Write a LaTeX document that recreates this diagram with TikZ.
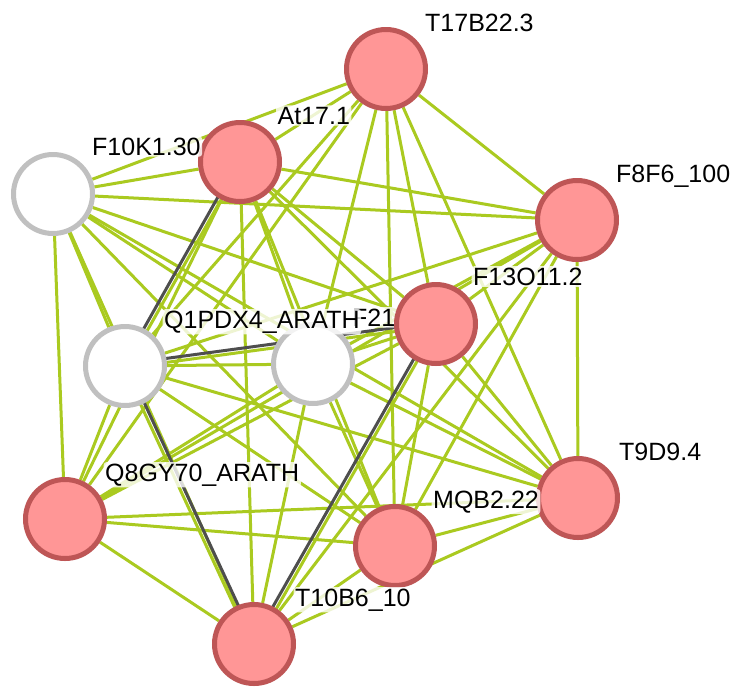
\documentclass[tikz,border=0pt]{standalone}
\usepackage{fontspec}
\setmainfont{Liberation Sans}
\usetikzlibrary{calc,backgrounds}
\definecolor{edgegreen}{RGB}{170,202,32}
\definecolor{edgedark}{RGB}{78,78,78}
\definecolor{pinkfill}{RGB}{255,150,150}
\definecolor{pinkdraw}{RGB}{190,86,86}
\definecolor{greydraw}{RGB}{192,192,192}
\begin{document}
\begin{tikzpicture}[x=1pt,y=-1pt,
  prot/.style={circle, minimum size=79pt, inner sep=0pt, line width=5pt, draw=pinkdraw, fill=pinkfill},
  wprot/.style={circle, minimum size=79pt, inner sep=0pt, line width=5pt, draw=greydraw, fill=white},
  lbl/.style={anchor=base west, font=\fontsize{25}{29}\selectfont, fill=white, fill opacity=0.8, text opacity=1, inner sep=1.5pt, rounded corners=3pt},
  edge/.style={draw=edgegreen, line width=3pt},
  dedge/.style={draw=edgedark, line width=3pt}]
\useasboundingbox (0,0) rectangle (736,686);
% nodes (E drawn later so it covers the label of G)
\node[prot]  (A) at (386,69)  {};
\node[prot]  (B) at (240,162) {};
\node[wprot] (C) at (53,194)  {};
\node[prot]  (D) at (577,220) {};
\node[wprot] (F) at (125,366) {};
\node[wprot] (G) at (313,364) {};
\node[prot]  (H) at (578,498) {};
\node[prot]  (I) at (65,519)  {};
\node[prot]  (J) at (395,546) {};
\node[prot]  (K) at (254,644) {};
% labels
\node[lbl] (lG) at ($(G.center)+(37.5,-38)$) {F21};
\node[lbl] (lF) at ($(F.center)+(37.5,-38)$) {Q1PDX4\_ARATH};
\node[lbl] (lA) at ($(A.center)+(37.5,-38)$) {T17B22.3};
\node[lbl] (lB) at ($(B.center)+(36,-38)$) {At17.1};
\node[lbl] (lC) at ($(C.center)+(37.5,-39)$) {F10K1.30};
\node[lbl] (lD) at ($(D.center)+(37.5,-38)$) {F8F6\_100};
\node[lbl] (lH) at ($(H.center)+(39.5,-38)$) {T9D9.4};
\node[lbl] (lI) at ($(I.center)+(38.5,-38)$) {Q8GY70\_ARATH};
\node[lbl] (lJ) at ($(J.center)+(36.5,-38)$) {MQB2.22};
\node[lbl] (lK) at ($(K.center)+(39.5,-38)$) {T10B6\_10};
\node[prot]  (E) at (436,324) {};
\node[lbl] (lE) at ($(E.center)+(35.5,-39)$) {F13O11.2};
% edges
\begin{scope}[on background layer]
\fill[white] (0,0) rectangle (736,686);
\foreach \p/\q in {A/B,A/C,A/D,A/E,A/F,A/G,A/H,A/I,A/J,
  B/C,B/D,B/E,B/G,B/H,B/I,B/J,B/K,
  C/D,C/E,C/F,C/G,C/H,C/I,C/J,C/K,
  D/E,D/F,D/G,D/H,D/I,D/J,D/K,
  E/G,E/H,E/I,E/J,
  F/G,F/H,F/I,F/J,
  G/H,G/I,G/J,G/K,
  H/I,H/J,H/K,
  I/J,I/K,
  J/K}
  \draw[edge] (\p) -- (\q);
% double edges: dark + green
\draw[dedge] ($(B.center)!2pt!-90:(F.center)$) -- ($(F.center)!2pt!90:(B.center)$);
\draw[edge]  ($(B.center)!2pt!90:(F.center)$) -- ($(F.center)!2pt!-90:(B.center)$);
\draw[dedge] ($(E.center)!2pt!-90:(K.center)$) -- ($(K.center)!2pt!90:(E.center)$);
\draw[edge]  ($(E.center)!2pt!90:(K.center)$) -- ($(K.center)!2pt!-90:(E.center)$);
\draw[dedge] ($(F.center)!2pt!90:(K.center)$) -- ($(K.center)!2pt!-90:(F.center)$);
\draw[edge]  ($(F.center)!2pt!-90:(K.center)$) -- ($(K.center)!2pt!90:(F.center)$);
\draw[dedge] ($(F.center)!2pt!90:(E.center)$) -- ($(E.center)!2pt!-90:(F.center)$);
\draw[edge]  ($(F.center)!2pt!-90:(E.center)$) -- ($(E.center)!2pt!90:(F.center)$);
\end{scope}
\end{tikzpicture}
\end{document}
